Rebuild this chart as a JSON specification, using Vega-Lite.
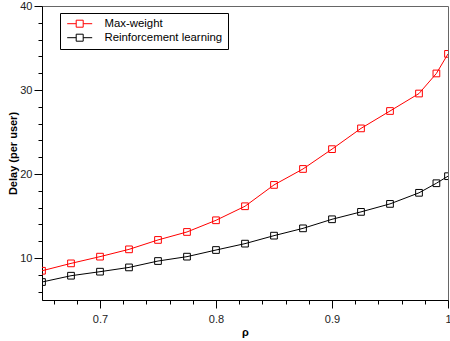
{
  "$schema": "https://vega.github.io/schema/vega-lite/v6.json",
  "autosize": {"type": "none"},
  "width": 406,
  "height": 294,
  "padding": {"left": 42, "top": 6, "right": 2, "bottom": 41},
  "background": "white",
  "config": {
    "view": {"stroke": "#666", "strokeWidth": 1},
    "font": "Liberation Sans"
  },
  "data": {
    "values": [
      {"rho": 0.65, "delay": 8.48, "method": "Max-weight"},
      {"rho": 0.675, "delay": 9.36, "method": "Max-weight"},
      {"rho": 0.7, "delay": 10.16, "method": "Max-weight"},
      {"rho": 0.725, "delay": 11.03, "method": "Max-weight"},
      {"rho": 0.75, "delay": 12.15, "method": "Max-weight"},
      {"rho": 0.775, "delay": 13.1, "method": "Max-weight"},
      {"rho": 0.8, "delay": 14.49, "method": "Max-weight"},
      {"rho": 0.825, "delay": 16.16, "method": "Max-weight"},
      {"rho": 0.85, "delay": 18.7, "method": "Max-weight"},
      {"rho": 0.875, "delay": 20.6, "method": "Max-weight"},
      {"rho": 0.9, "delay": 22.96, "method": "Max-weight"},
      {"rho": 0.925, "delay": 25.43, "method": "Max-weight"},
      {"rho": 0.95, "delay": 27.5, "method": "Max-weight"},
      {"rho": 0.975, "delay": 29.58, "method": "Max-weight"},
      {"rho": 0.99, "delay": 31.97, "method": "Max-weight"},
      {"rho": 1.0, "delay": 34.3, "method": "Max-weight"},
      {"rho": 0.65, "delay": 7.14, "method": "Reinforcement learning"},
      {"rho": 0.675, "delay": 7.89, "method": "Reinforcement learning"},
      {"rho": 0.7, "delay": 8.37, "method": "Reinforcement learning"},
      {"rho": 0.725, "delay": 8.88, "method": "Reinforcement learning"},
      {"rho": 0.75, "delay": 9.64, "method": "Reinforcement learning"},
      {"rho": 0.775, "delay": 10.16, "method": "Reinforcement learning"},
      {"rho": 0.8, "delay": 10.95, "method": "Reinforcement learning"},
      {"rho": 0.825, "delay": 11.71, "method": "Reinforcement learning"},
      {"rho": 0.85, "delay": 12.66, "method": "Reinforcement learning"},
      {"rho": 0.875, "delay": 13.53, "method": "Reinforcement learning"},
      {"rho": 0.9, "delay": 14.61, "method": "Reinforcement learning"},
      {"rho": 0.925, "delay": 15.49, "method": "Reinforcement learning"},
      {"rho": 0.95, "delay": 16.44, "method": "Reinforcement learning"},
      {"rho": 0.975, "delay": 17.76, "method": "Reinforcement learning"},
      {"rho": 0.99, "delay": 18.9, "method": "Reinforcement learning"},
      {"rho": 1.0, "delay": 19.74, "method": "Reinforcement learning"}
    ]
  },
  "mark": {
    "type": "line",
    "strokeWidth": 1,
    "clip": true,
    "point": {"shape": "square", "filled": false, "size": 45, "strokeWidth": 1, "clip": true}
  },
  "encoding": {
    "x": {
      "field": "rho",
      "type": "quantitative",
      "scale": {"domain": [0.65, 1], "nice": false, "zero": false},
      "axis": {
        "title": "ρ",
        "titleFontWeight": "bold",
        "titleFontSize": 11,
        "titlePadding": 2,
        "values": [0.66, 0.68, 0.7, 0.72, 0.74, 0.76, 0.78, 0.8, 0.82, 0.84, 0.86, 0.88, 0.9, 0.92, 0.94, 0.96, 0.98, 1.0],
        "labelExpr": "abs(datum.value*10 - round(datum.value*10)) < 0.001 ? format(datum.value, '~g') : ''",
        "tickSize": {"condition": {"test": "abs(datum.value*10 - round(datum.value*10)) < 0.001", "value": 8}, "value": 4},
        "labelFontSize": 11,
        "labelColor": "#222",
        "labelPadding": 5,
        "domainColor": "black",
        "tickColor": "black",
        "grid": false,
        "labelFlush": false
      }
    },
    "y": {
      "field": "delay",
      "type": "quantitative",
      "scale": {"domain": [5, 40], "nice": false, "zero": false},
      "axis": {
        "title": "Delay (per user)",
        "titleFontWeight": "bold",
        "titleFontSize": 11,
        "titlePadding": 1,
        "values": [6, 8, 10, 12, 14, 16, 18, 20, 22, 24, 26, 28, 30, 32, 34, 36, 38, 40],
        "labelExpr": "datum.value % 10 == 0 ? datum.value : ''",
        "tickSize": {"condition": {"test": "datum.value % 10 == 0", "value": 8}, "value": 4},
        "labelFontSize": 11,
        "labelColor": "#222",
        "labelPadding": 2,
        "domainColor": "black",
        "tickColor": "black",
        "grid": false,
        "labelFlush": false
      }
    },
    "color": {
      "field": "method",
      "type": "nominal",
      "scale": {"domain": ["Max-weight", "Reinforcement learning"], "range": ["#ff0000", "#000000"]},
      "legend": {
        "title": null,
        "orient": "none",
        "legendX": 18,
        "legendY": 7,
        "strokeColor": "black",
        "fillColor": "white",
        "padding": 5,
        "rowPadding": 1,
        "symbolType": "M -1 0 H 1.571 M 3.571 0 H 6.143 M 1.571 -1 H 3.571 V 1 H 1.571 Z",
        "symbolSize": 49,
        "symbolStrokeWidth": 1,
        "symbolFillColor": "transparent",
        "labelFontSize": 11.4,
        "labelOffset": 28,
        "labelColor": "black"
      }
    }
  }
}
